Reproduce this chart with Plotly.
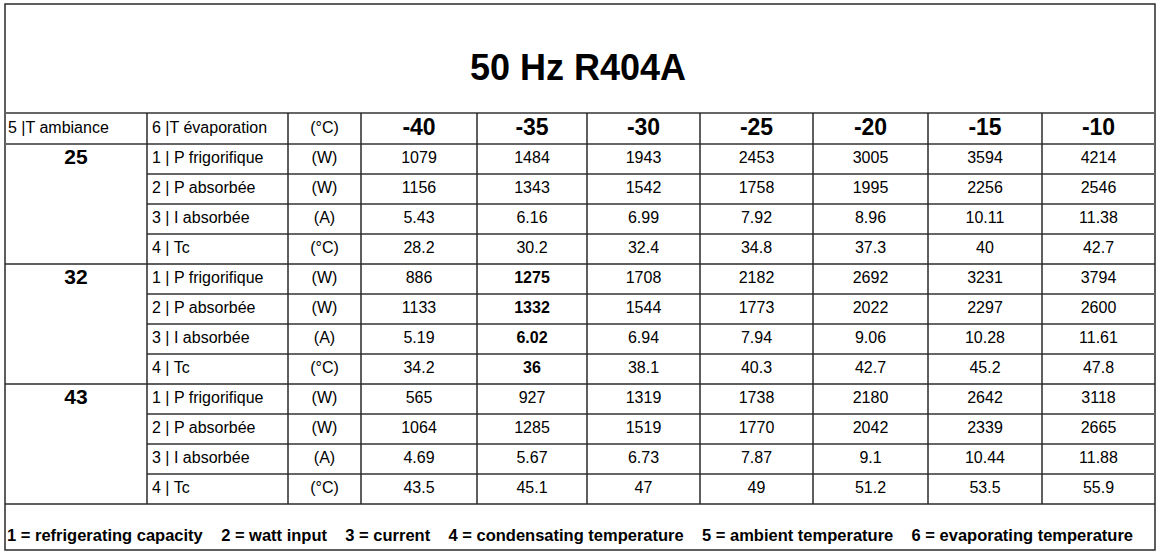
import plotly.graph_objects as go

# Data
title = "50 Hz R404A"
evap_temps = [-40, -35, -30, -25, -20, -15, -10]
ambient_temps = [25, 32, 43]
quantities = ["1 | P frigorifique", "2 | P absorbée", "3 | I absorbée", "4 | Tc"]
units = ["(W)", "(W)", "(A)", "(°C)"]
header_labels = ["5 |T ambiance", "6 |T évaporation", "(°C)"]

p_frig_25 = [1079, 1484, 1943, 2453, 3005, 3594, 4214]
p_abs_25 = [1156, 1343, 1542, 1758, 1995, 2256, 2546]
i_abs_25 = [5.43, 6.16, 6.99, 7.92, 8.96, 10.11, 11.38]
tc_25 = [28.2, 30.2, 32.4, 34.8, 37.3, 40, 42.7]

p_frig_32 = [886, 1275, 1708, 2182, 2692, 3231, 3794]
p_abs_32 = [1133, 1332, 1544, 1773, 2022, 2297, 2600]
i_abs_32 = [5.19, 6.02, 6.94, 7.94, 9.06, 10.28, 11.61]
tc_32 = [34.2, 36, 38.1, 40.3, 42.7, 45.2, 47.8]

p_frig_43 = [565, 927, 1319, 1738, 2180, 2642, 3118]
p_abs_43 = [1064, 1285, 1519, 1770, 2042, 2339, 2665]
i_abs_43 = [4.69, 5.67, 6.73, 7.87, 9.1, 10.44, 11.88]
tc_43 = [43.5, 45.1, 47, 49, 51.2, 53.5, 55.9]

# nominal point shown in bold
nominal_ambient = 32
nominal_evap = -35

legend_text = ("1 = refrigerating capacity    2 = watt input    3 = current    "
               "4 = condensating temperature    5 = ambient temperature    "
               "6 = evaporating temperature")

blocks = {
    25: [p_frig_25, p_abs_25, i_abs_25, tc_25],
    32: [p_frig_32, p_abs_32, i_abs_32, tc_32],
    43: [p_frig_43, p_abs_43, i_abs_43, tc_43],
}

# Layout grid (pixel-like axis units)
W, H = 1159, 557
col_edges = [5, 147, 288, 361, 477, 587, 700, 813, 928, 1042, 1155]
top, title_bottom, header_bottom = 4, 113, 144
row_h = 30
n_rows = len(ambient_temps) * len(quantities)
table_bottom = header_bottom + n_rows * row_h
bottom = 550

FONT = "Liberation Sans, Arial"
LINE_DARK = "#2a2a2a"
LINE_GREY = "#666666"


def fmt(v):
    return "{:g}".format(v)


def col_center(i):
    return (col_edges[i] + col_edges[i + 1]) / 2


fig = go.Figure()

# header row
head_y = (title_bottom + header_bottom) / 2
fig.add_trace(go.Scatter(
    x=[col_edges[0] + 3, col_edges[1] + 5],
    y=[head_y] * 2,
    text=header_labels[:2], mode="text", textposition="middle right",
    textfont=dict(family=FONT, size=16, color="black"), hoverinfo="skip"))
fig.add_trace(go.Scatter(
    x=[col_center(2)], y=[head_y],
    text=[header_labels[2]], mode="text", textposition="middle center",
    textfont=dict(family=FONT, size=16, color="black"), hoverinfo="skip"))
fig.add_trace(go.Scatter(
    x=[col_center(3 + j) for j in range(len(evap_temps))],
    y=[head_y + 1] * len(evap_temps),
    text=["<b>%d</b>" % t for t in evap_temps], mode="text",
    textposition="middle center",
    textfont=dict(family=FONT, size=23, color="black"), hoverinfo="skip"))

# body
lab_x, lab_y, lab_t = [], [], []
unit_x, unit_y, unit_t = [], [], []
val_x, val_y, val_t = [], [], []
amb_x, amb_y, amb_t = [], [], []
for b, amb in enumerate(ambient_temps):
    y0 = header_bottom + b * len(quantities) * row_h
    amb_x.append(col_center(0))
    amb_y.append(y0 + row_h / 2)
    amb_t.append("<b>%d</b>" % amb)
    for r, q in enumerate(quantities):
        yc = y0 + r * row_h + row_h / 2
        lab_x.append(col_edges[1] + 5)
        lab_y.append(yc)
        lab_t.append(q)
        unit_x.append(col_center(2))
        unit_y.append(yc)
        unit_t.append(units[r])
        for j, t in enumerate(evap_temps):
            s = fmt(blocks[amb][r][j])
            if amb == nominal_ambient and t == nominal_evap:
                s = "<b>%s</b>" % s
            val_x.append(col_center(3 + j))
            val_y.append(yc)
            val_t.append(s)

fig.add_trace(go.Scatter(x=amb_x, y=amb_y, text=amb_t, mode="text",
                         textposition="middle center",
                         textfont=dict(family=FONT, size=21, color="black"),
                         hoverinfo="skip"))
fig.add_trace(go.Scatter(x=lab_x, y=lab_y, text=lab_t, mode="text",
                         textposition="middle right",
                         textfont=dict(family=FONT, size=16, color="black"),
                         hoverinfo="skip"))
fig.add_trace(go.Scatter(x=unit_x, y=unit_y, text=unit_t, mode="text",
                         textposition="middle center",
                         textfont=dict(family=FONT, size=16, color="black"),
                         hoverinfo="skip"))
fig.add_trace(go.Scatter(x=val_x, y=val_y, text=val_t, mode="text",
                         textposition="middle center",
                         textfont=dict(family=FONT, size=16, color="black"),
                         hoverinfo="skip"))

# title and footer legend
fig.add_trace(go.Scatter(x=[(col_edges[0] + col_edges[-1]) / 2 - 2], y=[(top + title_bottom) / 2 + 12],
                         text=["<b>%s</b>" % title], mode="text",
                         textposition="middle center",
                         textfont=dict(family=FONT, size=36, color="black"),
                         hoverinfo="skip"))
fig.add_trace(go.Scatter(x=[col_edges[0] + 2], y=[bottom - 13],
                         text=["<b>%s</b>" % legend_text], mode="text",
                         textposition="middle right",
                         textfont=dict(family=FONT, size=16.5, color="black"),
                         hoverinfo="skip"))

# grid lines
shapes = []


def hline(x0, x1, y, color, width):
    shapes.append(dict(type="line", xref="x", yref="y", x0=x0, x1=x1, y0=y, y1=y,
                       line=dict(color=color, width=width)))


def vline(x, y0, y1, color, width):
    shapes.append(dict(type="line", xref="x", yref="y", x0=x, x1=x, y0=y0, y1=y1,
                       line=dict(color=color, width=width)))


# outer frame
shapes.append(dict(type="rect", xref="x", yref="y", x0=col_edges[0], x1=col_edges[-1],
                   y0=top, y1=bottom, line=dict(color=LINE_DARK, width=1.5)))
hline(col_edges[0], col_edges[-1], title_bottom, LINE_GREY, 2)
hline(col_edges[0], col_edges[-1], header_bottom, LINE_GREY, 2)
for b in range(1, len(ambient_temps) + 1):
    hline(col_edges[0], col_edges[-1], header_bottom + b * len(quantities) * row_h, LINE_DARK, 1.5)
for k in range(n_rows):
    if k % len(quantities) != 0:
        hline(col_edges[1], col_edges[-1], header_bottom + k * row_h, LINE_GREY, 1.8)
for xe in col_edges[1:-1]:
    vline(xe, title_bottom, table_bottom, LINE_DARK, 1.5)

fig.update_layout(
    width=W, height=H,
    margin=dict(l=0, r=0, t=0, b=0),
    paper_bgcolor="white", plot_bgcolor="white",
    showlegend=False,
    shapes=shapes,
    xaxis=dict(range=[0, W], visible=False, fixedrange=True),
    yaxis=dict(range=[H, 0], visible=False, fixedrange=True),
)

# drop the browser's default body margin so the figure sits at the page origin
fig.write_html("out.html", config={"displayModeBar": False},
               post_script="document.body.style.margin = '0';")
